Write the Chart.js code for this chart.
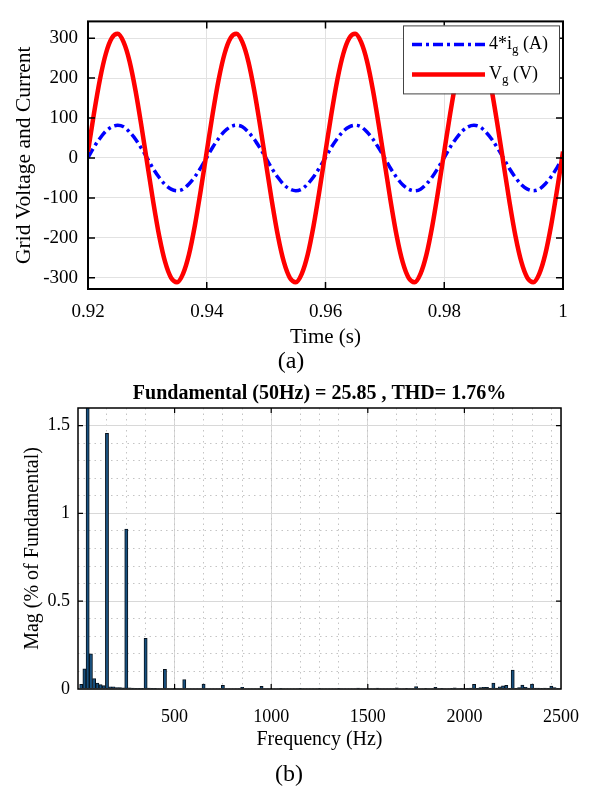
<!DOCTYPE html>
<html>
<head>
<meta charset="utf-8">
<title>Grid voltage, current and harmonic spectrum</title>
<script src="https://cdn.jsdelivr.net/npm/chart.js@4.4.1/dist/chart.umd.min.js"></script>
<style>
  html, body { margin: 0; padding: 0; background: #fff; }
  #page { position: relative; width: 590px; height: 789px; overflow: hidden; }
  canvas { position: absolute; left: 0; }
</style>
</head>
<body>
<div id="page">
  <canvas id="waveChart" width="590" height="375" style="top:0px;width:590px;height:375px"></canvas>
  <canvas id="fftChart" width="590" height="419" style="top:370px;width:590px;height:419px"></canvas>
</div>
<script>
// ---- (a) time domain ----
const timeS = [
  0.920, 0.921, 0.922, 0.923, 0.924, 0.925, 0.926, 0.927, 0.928, 0.929,
  0.930, 0.931, 0.932, 0.933, 0.934, 0.935, 0.936, 0.937, 0.938, 0.939,
  0.940, 0.941, 0.942, 0.943, 0.944, 0.945, 0.946, 0.947, 0.948, 0.949,
  0.950, 0.951, 0.952, 0.953, 0.954, 0.955, 0.956, 0.957, 0.958, 0.959,
  0.960, 0.961, 0.962, 0.963, 0.964, 0.965, 0.966, 0.967, 0.968, 0.969,
  0.970, 0.971, 0.972, 0.973, 0.974, 0.975, 0.976, 0.977, 0.978, 0.979,
  0.980, 0.981, 0.982, 0.983, 0.984, 0.985, 0.986, 0.987, 0.988, 0.989,
  0.990, 0.991, 0.992, 0.993, 0.994, 0.995, 0.996, 0.997, 0.998, 0.999,
  1.000
];
const current4x = [
  1, 27, 49, 67, 78, 82, 78, 65, 47, 24,
  -1, -27, -49, -67, -78, -82, -78, -65, -47, -24,
  1, 27, 49, 67, 78, 82, 78, 65, 47, 24,
  -1, -27, -49, -67, -78, -82, -78, -65, -47, -24,
  1, 27, 49, 67, 78, 82, 78, 65, 47, 24,
  -1, -27, -49, -67, -78, -82, -78, -65, -47, -24,
  1, 27, 49, 67, 78, 82, 78, 65, 47, 24,
  -1, -27, -49, -67, -78, -82, -78, -65, -47, -24,
  1
];
const voltage = [
  16, 111, 196, 261, 300, 311, 290, 242, 169, 80,
  -16, -111, -196, -261, -300, -311, -290, -242, -169, -80,
  16, 111, 196, 261, 300, 311, 290, 242, 169, 80,
  -16, -111, -196, -261, -300, -311, -290, -242, -169, -80,
  16, 111, 196, 261, 300, 311, 290, 242, 169, 80,
  -16, -111, -196, -261, -300, -311, -290, -242, -169, -80,
  16, 111, 196, 261, 300, 311, 290, 242, 169, 80,
  -16, -111, -196, -261, -300, -311, -290, -242, -169, -80,
  16
];
const timeTicks = [0.92, 0.94, 0.96, 0.98, 1];
const waveTicks = [-300, -200, -100, 0, 100, 200, 300];

// ---- (b) harmonic spectrum ----
const freqHz = [
  0, 16.7, 33.3, 50, 66.7, 83.3, 100, 116.7, 133.3, 150,
  166.7, 183.3, 200, 216.7, 233.3, 250, 266.7, 283.3, 300, 316.7,
  333.3, 350, 366.7, 383.3, 400, 416.7, 433.3, 450, 466.7, 483.3,
  500, 516.7, 533.3, 550, 566.7, 583.3, 600, 616.7, 633.3, 650,
  666.7, 683.3, 700, 716.7, 733.3, 750, 766.7, 783.3, 800, 816.7,
  833.3, 850, 866.7, 883.3, 900, 916.7, 933.3, 950, 966.7, 983.3,
  1000, 1016.7, 1033.3, 1050, 1066.7, 1083.3, 1100, 1116.7, 1133.3, 1150,
  1166.7, 1183.3, 1200, 1216.7, 1233.3, 1250, 1266.7, 1283.3, 1300, 1316.7,
  1333.3, 1350, 1366.7, 1383.3, 1400, 1416.7, 1433.3, 1450, 1466.7, 1483.3,
  1500, 1516.7, 1533.3, 1550, 1566.7, 1583.3, 1600, 1616.7, 1633.3, 1650,
  1666.7, 1683.3, 1700, 1716.7, 1733.3, 1750, 1766.7, 1783.3, 1800, 1816.7,
  1833.3, 1850, 1866.7, 1883.3, 1900, 1916.7, 1933.3, 1950, 1966.7, 1983.3,
  2000, 2016.7, 2033.3, 2050, 2066.7, 2083.3, 2100, 2116.7, 2133.3, 2150,
  2166.7, 2183.3, 2200, 2216.7, 2233.3, 2250, 2266.7, 2283.3, 2300, 2316.7,
  2333.3, 2350, 2366.7, 2383.3, 2400, 2416.7, 2433.3, 2450, 2466.7, 2483.3,
  2500
];
const magPct = [
  0, 0.027, 0.115, 100, 0.2, 0.059, 0.034, 0.025, 0.019, 1.456,
  0.013, 0.013, 0.008, 0.008, 0.006, 0.91, 0.006, 0.005, 0.004, 0.004,
  0.004, 0.288, 0.005, 0.004, 0.004, 0.003, 0.003, 0.112, 0.003, 0.003,
  0.004, 0.003, 0.003, 0.054, 0.003, 0.003, 0.003, 0.003, 0.003, 0.028,
  0.003, 0.003, 0.003, 0.003, 0.003, 0.021, 0.003, 0.003, 0.003, 0.003,
  0.003, 0.01, 0.003, 0.003, 0.003, 0.003, 0.003, 0.015, 0.003, 0.003,
  0.003, 0.003, 0.003, 0.004, 0.003, 0.003, 0.003, 0.003, 0.003, 0.004,
  0.003, 0.003, 0.003, 0.003, 0.003, 0.004, 0.003, 0.003, 0.003, 0.003,
  0.003, 0.004, 0.003, 0.003, 0.003, 0.003, 0.003, 0.005, 0.003, 0.003,
  0.003, 0.003, 0.003, 0.005, 0.003, 0.003, 0.003, 0.003, 0.003, 0.006,
  0.003, 0.003, 0.004, 0.003, 0.003, 0.014, 0.003, 0.003, 0.004, 0.003,
  0.003, 0.009, 0.003, 0.004, 0.003, 0.003, 0.004, 0.006, 0.003, 0.004,
  0.003, 0.004, 0.005, 0.027, 0.004, 0.008, 0.01, 0.009, 0.004, 0.033,
  0.005, 0.012, 0.018, 0.021, 0.004, 0.108, 0.004, 0.008, 0.022, 0.01,
  0.005, 0.028, 0.005, 0.005, 0.004, 0.005, 0.004, 0.016, 0.008, 0.004,
  0.004
];
const freqTicks = [500, 1000, 1500, 2000, 2500];
const freqMinor = [100, 200, 300, 400, 600, 700, 800, 900, 1100, 1200, 1300, 1400,
  1600, 1700, 1800, 1900, 2100, 2200, 2300, 2400];
const magTicks = [0, 0.5, 1, 1.5];
const magMinor = [0.1, 0.2, 0.3, 0.4, 0.6, 0.7, 0.8, 0.9, 1.1, 1.2, 1.3, 1.4];

const fftTitle = 'Fundamental (50Hz) = 25.85 , THD= 1.76%';

Chart.defaults.font.family = '"Liberation Serif", "Times New Roman", serif';
Chart.defaults.color = '#000';

const serif = '"Liberation Serif", "Times New Roman", serif';

function fixedTicks(list) {
    return function (scale) {
        scale.ticks = list.map(v => ({ value: v }));
    };
}

// keep the plot box where it is, whatever the edge labels need
function fixedHeight(h) {
    return function (scale) {
        scale.height = h;
        scale.paddingLeft = 0;
        scale.paddingRight = 0;
    };
}

// box around the plot, inward tick marks, caption and heading
const frameAndTicks = {
    id: 'frameAndTicks',
    afterDatasetsDraw(chart, args, opts) {
        const { ctx, chartArea: a } = chart;
        const xs = chart.scales.x;
        const ys = chart.scales.y;
        ctx.save();
        ctx.strokeStyle = '#000';
        ctx.lineWidth = opts.tickWidth;
        ctx.beginPath();
        xs.ticks.forEach(t => {
            const px = xs.getPixelForValue(t.value);
            if (px <= a.left + 1 || px >= a.right - 1) return;
            ctx.moveTo(px, a.bottom);
            ctx.lineTo(px, a.bottom - opts.tickLength);
            ctx.moveTo(px, a.top);
            ctx.lineTo(px, a.top + opts.tickLength);
        });
        ys.ticks.forEach(t => {
            const py = ys.getPixelForValue(t.value);
            if (py <= a.top + 1 || py >= a.bottom - 1) return;
            ctx.moveTo(a.left, py);
            ctx.lineTo(a.left + opts.tickLength, py);
            ctx.moveTo(a.right, py);
            ctx.lineTo(a.right - opts.tickLength, py);
        });
        ctx.stroke();
        ctx.lineWidth = opts.frameWidth;
        ctx.strokeRect(a.left, a.top, a.right - a.left, a.bottom - a.top);
        ctx.restore();
    },
    afterDraw(chart, args, opts) {
        const ctx = chart.ctx;
        const a = chart.chartArea;
        ctx.save();
        ctx.fillStyle = '#000';
        ctx.textAlign = 'center';
        ctx.textBaseline = 'middle';
        if (opts.heading) {
            ctx.font = 'bold 20px ' + serif;
            ctx.fillText(opts.heading, (a.left + a.right) / 2, opts.headingY);
        }
        if (opts.caption) {
            ctx.font = '24px ' + serif;
            ctx.fillText(opts.caption, opts.captionX, opts.captionY);
        }
        ctx.restore();
    }
};

// legend with subscripts (4*i_g, V_g)
const subLegend = {
    id: 'subLegend',
    afterDraw(chart, args, opts) {
        const ctx = chart.ctx;
        const a = chart.chartArea;
        const bx = a.right - 4 - opts.width;
        const by = a.top + 4;
        ctx.save();
        ctx.fillStyle = '#fff';
        ctx.fillRect(bx, by, opts.width, opts.height);
        ctx.strokeStyle = '#444';
        ctx.lineWidth = 1;
        ctx.strokeRect(bx + 0.5, by + 0.5, opts.width, opts.height);
        chart.data.datasets.forEach((ds, i) => {
            const cy = by + 19 + i * 30;
            ctx.beginPath();
            ctx.strokeStyle = ds.borderColor;
            ctx.lineWidth = ds.borderWidth;
            ctx.setLineDash(ds.borderDash || []);
            ctx.moveTo(bx + 9, cy);
            ctx.lineTo(bx + 82, cy);
            ctx.stroke();
            ctx.setLineDash([]);
            const parts = ds.label.split('_');
            const main = parts[0];
            const sub = parts[1].charAt(0);
            const tail = parts[1].slice(1);
            const base = cy + 5;
            let x = bx + 86;
            ctx.fillStyle = '#000';
            ctx.textBaseline = 'alphabetic';
            ctx.textAlign = 'left';
            ctx.font = '18px ' + serif;
            ctx.fillText(main, x, base);
            x += ctx.measureText(main).width;
            ctx.font = '13px ' + serif;
            ctx.fillText(sub, x, base + 4);
            x += ctx.measureText(sub).width;
            ctx.font = '18px ' + serif;
            ctx.fillText(tail, x, base);
        });
        ctx.restore();
    }
};

const waveCanvas = document.getElementById('waveChart');
new Chart(waveCanvas, {
    type: 'line',
    data: {
        datasets: [
            {
                label: '4*i_g (A)',
                data: timeS.map((t, i) => ({ x: t, y: current4x[i] })),
                borderColor: '#0000ff',
                borderWidth: 3.5,
                borderDash: [10, 4, 3, 4],
                pointRadius: 0,
                cubicInterpolationMode: 'monotone',
                order: 2
            },
            {
                label: 'V_g (V)',
                data: timeS.map((t, i) => ({ x: t, y: voltage[i] })),
                borderColor: '#ff0000',
                borderWidth: 4.5,
                pointRadius: 0,
                cubicInterpolationMode: 'monotone',
                order: 1
            }
        ]
    },
    options: {
        responsive: false,
        animation: false,
        devicePixelRatio: 1,
        layout: { padding: { left: 0, top: 7, right: 27, bottom: 0 } },
        scales: {
            x: {
                type: 'linear',
                min: 0.92,
                max: 1,
                afterBuildTicks: fixedTicks(timeTicks),
                afterFit: fixedHeight(86),
                ticks: {
                    font: { size: 19 },
                    padding: 12,
                    maxRotation: 0,
                    callback: v => String(+v.toFixed(2))
                },
                grid: { color: '#e2e2e2', lineWidth: 1, drawTicks: false },
                border: { display: false },
                title: { display: true, text: 'Time (s)', font: { size: 21 }, padding: { top: 0, bottom: 25 } }
            },
            y: {
                min: -328,
                max: 342,
                afterBuildTicks: fixedTicks(waveTicks),
                afterFit: s => { s.width = 88; },
                ticks: { font: { size: 19 }, padding: 10, callback: v => String(v) },
                grid: { color: '#e2e2e2', lineWidth: 1, drawTicks: false },
                border: { display: false },
                title: { display: true, text: 'Grid Voltage and Current', font: { size: 21.5 }, padding: { top: 11, bottom: 0 } }
            }
        },
        plugins: {
            legend: { display: false },
            tooltip: { enabled: false },
            frameAndTicks: { tickLength: 7, tickWidth: 1.5, frameWidth: 2, caption: '(a)', captionX: 291, captionY: 362 },
            subLegend: { width: 156, height: 68 }
        }
    },
    plugins: [frameAndTicks, subLegend]
});

const fftCanvas = document.getElementById('fftChart');
new Chart(fftCanvas, {
    type: 'bar',
    data: {
        datasets: [{
            label: 'Mag',
            data: freqHz.map((f, i) => ({ x: f, y: magPct[i] })),
            backgroundColor: '#17507f',
            borderColor: '#08121c',
            borderWidth: 1,
            barPercentage: 1,
            categoryPercentage: 1
        }]
    },
    options: {
        responsive: false,
        animation: false,
        devicePixelRatio: 1,
        layout: { padding: { left: 0, top: 38, right: 29, bottom: 0 } },
        scales: {
            x: {
                type: 'linear',
                min: 0,
                max: 2500,
                offset: false,
                afterBuildTicks: fixedTicks(freqTicks),
                afterFit: fixedHeight(100),
                ticks: { font: { size: 18 }, padding: 17, maxRotation: 0, callback: v => String(v) },
                grid: { color: '#d8d8d8', lineWidth: 1, drawTicks: false, offset: false },
                border: { display: false },
                title: { display: true, text: 'Frequency (Hz)', font: { size: 20 }, padding: { top: 0, bottom: 37 } }
            },
            xm: {
                type: 'linear',
                position: 'bottom',
                min: 0,
                max: 2500,
                offset: false,
                afterBuildTicks: fixedTicks(freqMinor),
                afterFit: fixedHeight(0),
                ticks: { display: false },
                grid: { color: '#c4c4c4', lineWidth: 1, drawTicks: false, borderDash: [1.5, 4] },
                border: { display: false, dash: [1.5, 4] }
            },
            y: {
                min: 0,
                max: 1.6,
                afterBuildTicks: fixedTicks(magTicks),
                afterFit: s => { s.width = 78; },
                ticks: { font: { size: 18 }, padding: 8, callback: v => String(v) },
                grid: { color: '#d8d8d8', lineWidth: 1, drawTicks: false },
                border: { display: false },
                title: { display: true, text: 'Mag (% of Fundamental)', font: { size: 20 }, padding: { top: 21, bottom: 0 } }
            },
            ym: {
                type: 'linear',
                position: 'left',
                min: 0,
                max: 1.6,
                afterBuildTicks: fixedTicks(magMinor),
                afterFit: s => { s.width = 0; },
                ticks: { display: false },
                grid: { color: '#c4c4c4', lineWidth: 1, drawTicks: false, borderDash: [1.5, 4] },
                border: { display: false, dash: [1.5, 4] }
            }
        },
        plugins: {
            legend: { display: false },
            tooltip: { enabled: false },
            frameAndTicks: {
                tickLength: 5, tickWidth: 1.2, frameWidth: 1.5,
                heading: fftTitle, headingY: 24,
                caption: '(b)', captionX: 289, captionY: 405
            }
        }
    },
    plugins: [frameAndTicks]
});
</script>
</body>
</html>
